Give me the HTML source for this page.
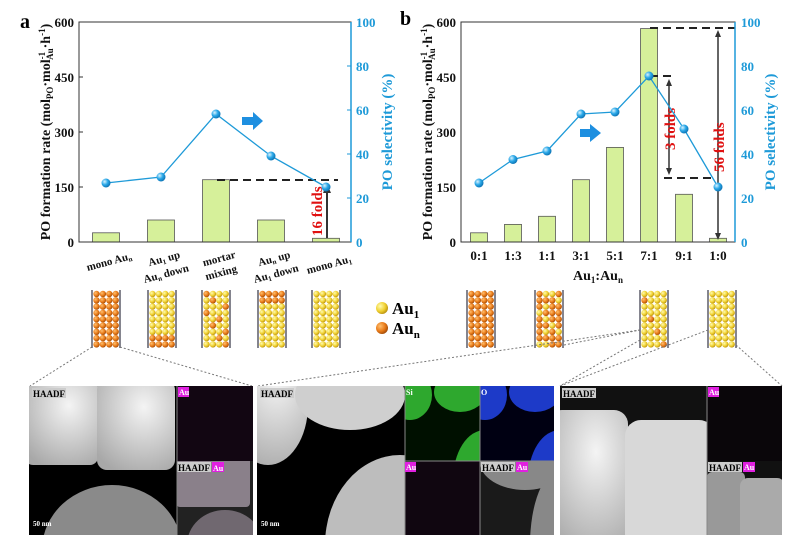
<!DOCTYPE html>
<html><head><meta charset="utf-8"><style>
html,body{margin:0;padding:0;background:#fff;overflow:hidden;width:799px;height:542px}
svg{display:block}
text{font-family:"Liberation Serif",serif;font-weight:bold}
</style></head><body>
<svg id="s" width="799" height="542" viewBox="0 0 799 542" xmlns="http://www.w3.org/2000/svg">
<defs>
<radialGradient id="gy" cx="0.35" cy="0.35" r="0.7"><stop offset="0" stop-color="#fffbb0"/><stop offset="0.6" stop-color="#f0d030"/><stop offset="1" stop-color="#b89010"/></radialGradient>
<radialGradient id="go" cx="0.35" cy="0.35" r="0.7"><stop offset="0" stop-color="#ffc070"/><stop offset="0.6" stop-color="#e87a18"/><stop offset="1" stop-color="#a04a08"/></radialGradient>
<radialGradient id="gb" cx="0.35" cy="0.35" r="0.7"><stop offset="0" stop-color="#d8f2ff"/><stop offset="0.5" stop-color="#2aa8e8"/><stop offset="1" stop-color="#0b6fb0"/></radialGradient>
<radialGradient id="w1" cx="0.6" cy="0.3" r="0.8"><stop offset="0" stop-color="#f4f4f4"/><stop offset="1" stop-color="#a8a8a8"/></radialGradient>
<clipPath id="c1a"><rect x="29" y="386" width="148" height="149"/></clipPath>
<clipPath id="c1b"><rect x="177" y="461" width="76" height="74"/></clipPath>
<clipPath id="c2a"><rect x="257" y="386" width="148" height="149"/></clipPath>
<clipPath id="c2si"><rect x="405" y="386" width="75" height="75"/></clipPath>
<clipPath id="c2o"><rect x="480" y="386" width="74" height="75"/></clipPath>
<clipPath id="c2h"><rect x="480" y="461" width="74" height="74"/></clipPath>
<clipPath id="c3a"><rect x="560" y="386" width="147" height="149"/></clipPath>
<clipPath id="c3b"><rect x="707" y="461" width="75" height="74"/></clipPath>
</defs>

<!-- ===== Chart a ===== -->
<text x="20" y="28" font-size="20">a</text>
<g fill="#d6f09a" stroke="#555" stroke-width="0.8">
<rect x="92.5" y="232.8" width="27" height="9.2"/>
<rect x="147.5" y="220" width="27" height="22"/>
<rect x="202.5" y="179.7" width="27" height="62.3"/>
<rect x="257.5" y="220" width="27" height="22"/>
<rect x="312.5" y="238.3" width="27" height="3.7"/>
</g>
<line x1="217" y1="180" x2="338" y2="180" stroke="#222" stroke-width="2" stroke-dasharray="8,5"/>
<line x1="327" y1="238" x2="327" y2="192" stroke="#333" stroke-width="2"/>
<path d="M323,193 L327,184 L331,193Z" fill="#333"/>
<text transform="translate(322,236) rotate(-90)" font-size="15" fill="#e01010">16 folds</text>
<polyline points="106,183 161,177 216,114 271,156 326,187" fill="none" stroke="#1e9ad8" stroke-width="1.3"/>
<g fill="url(#gb)"><circle cx="106" cy="183" r="4.5"/><circle cx="161" cy="177" r="4.5"/><circle cx="216" cy="114" r="4.5"/><circle cx="271" cy="156" r="4.5"/><circle cx="326" cy="187" r="4.5"/></g>
<path d="M242,117 h11 v-5 l10,9 -10,9 v-5 h-11z" fill="#1e8fe0"/>
<rect x="79" y="22" width="272" height="220" fill="none" stroke="#333" stroke-width="1"/>
<line x1="351" y1="22" x2="351" y2="242" stroke="#1e9ad8" stroke-width="1.5"/>
<g stroke="#333"><line x1="79" y1="22" x2="83" y2="22"/><line x1="79" y1="77" x2="83" y2="77"/><line x1="79" y1="132" x2="83" y2="132"/><line x1="79" y1="187" x2="83" y2="187"/></g>
<g stroke="#1e9ad8"><line x1="347" y1="66" x2="351" y2="66"/><line x1="347" y1="110" x2="351" y2="110"/><line x1="347" y1="154" x2="351" y2="154"/><line x1="347" y1="198" x2="351" y2="198"/></g>
<g font-size="13" text-anchor="end" fill="#111"><text x="74" y="27">600</text><text x="74" y="82">450</text><text x="74" y="137">300</text><text x="74" y="192">150</text><text x="74" y="247">0</text></g>
<g font-size="13" fill="#1e9ad8"><text x="356" y="27">100</text><text x="356" y="71">80</text><text x="356" y="115">60</text><text x="356" y="159">40</text><text x="356" y="203">20</text><text x="356" y="247">0</text></g>
<text transform="translate(50,132) rotate(-90)" font-size="14" text-anchor="middle" fill="#111">PO formation rate (mol<tspan font-size="9" dy="3">PO</tspan><tspan dy="-3">·mol</tspan><tspan font-size="9" dy="-5">-1</tspan><tspan font-size="9" dy="8" dx="-8">Au</tspan><tspan dy="-3">·h</tspan><tspan font-size="9" dy="-5">-1</tspan><tspan dy="5">)</tspan></text>
<text transform="translate(392,132) rotate(-90)" font-size="15" text-anchor="middle" fill="#1e9ad8">PO selectivity (%)</text>
<g font-size="11" fill="#111" text-anchor="middle">
<text transform="translate(110,265) rotate(-15)">mono Au<tspan font-size="7" dy="2">n</tspan></text>
<text transform="translate(165,262) rotate(-15)">Au<tspan font-size="7" dy="2">1</tspan><tspan dy="-2"> up</tspan></text>
<text transform="translate(167,277) rotate(-15)">Au<tspan font-size="7" dy="2">n</tspan><tspan dy="-2"> down</tspan></text>
<text transform="translate(220,262) rotate(-15)">mortar</text>
<text transform="translate(222,276) rotate(-15)">mixing</text>
<text transform="translate(275,262) rotate(-15)">Au<tspan font-size="7" dy="2">n</tspan><tspan dy="-2"> up</tspan></text>
<text transform="translate(277,277) rotate(-15)">Au<tspan font-size="7" dy="2">1</tspan><tspan dy="-2"> down</tspan></text>
<text transform="translate(330,268) rotate(-15)">mono Au<tspan font-size="7" dy="2">1</tspan></text>
</g>

<!-- ===== Chart b ===== -->
<text x="400" y="25" font-size="20">b</text>
<g fill="#d6f09a" stroke="#555" stroke-width="0.8">
<rect x="470.5" y="232.8" width="17" height="9.2"/>
<rect x="504.5" y="224.4" width="17" height="17.6"/>
<rect x="538.5" y="216.3" width="17" height="25.7"/>
<rect x="572.5" y="179.7" width="17" height="62.3"/>
<rect x="606.5" y="147.4" width="17" height="94.6"/>
<rect x="640.5" y="28.6" width="17" height="213.4"/>
<rect x="675.5" y="194.3" width="17" height="47.7"/>
<rect x="709.5" y="238.3" width="17" height="3.7"/>
</g>
<g stroke="#222" stroke-width="2" stroke-dasharray="8,5" fill="none">
<line x1="650" y1="28" x2="735" y2="28"/>
<line x1="650" y1="76" x2="676" y2="76"/>
<line x1="664" y1="178" x2="715" y2="178"/>
</g>
<g stroke="#333" stroke-width="1.5"><line x1="669" y1="84" x2="669" y2="170"/><line x1="718" y1="34" x2="718" y2="236"/></g>
<g fill="#333"><path d="M666,86 L669,79 L672,86Z"/><path d="M666,168 L669,175 L672,168Z"/><path d="M715,37 L718,30 L721,37Z"/><path d="M715,233 L718,240 L721,233Z"/></g>
<text transform="translate(675,150) rotate(-90)" font-size="15" fill="#e01010">3 folds</text>
<text transform="translate(724,172) rotate(-90)" font-size="15" fill="#e01010">56 folds</text>
<polyline points="479,183 513,159.5 547,151 581,114 615,112 649,76 684,129 718,187" fill="none" stroke="#1e9ad8" stroke-width="1.3"/>
<g fill="url(#gb)"><circle cx="479" cy="183" r="4.5"/><circle cx="513" cy="159.5" r="4.5"/><circle cx="547" cy="151" r="4.5"/><circle cx="581" cy="114" r="4.5"/><circle cx="615" cy="112" r="4.5"/><circle cx="649" cy="76" r="4.5"/><circle cx="684" cy="129" r="4.5"/><circle cx="718" cy="187" r="4.5"/></g>
<path d="M580,129 h10 v-5 l11,9 -11,9 v-5 h-10z" fill="#1e8fe0"/>
<rect x="461" y="22" width="274" height="220" fill="none" stroke="#333" stroke-width="1"/>
<line x1="735" y1="22" x2="735" y2="242" stroke="#1e9ad8" stroke-width="1.5"/>
<g font-size="13" text-anchor="end" fill="#111"><text x="456" y="27">600</text><text x="456" y="82">450</text><text x="456" y="137">300</text><text x="456" y="192">150</text><text x="456" y="247">0</text></g>
<g font-size="13" fill="#1e9ad8"><text x="741" y="27">100</text><text x="741" y="71">80</text><text x="741" y="115">60</text><text x="741" y="159">40</text><text x="741" y="203">20</text><text x="741" y="247">0</text></g>
<text transform="translate(432,132) rotate(-90)" font-size="14" text-anchor="middle" fill="#111">PO formation rate (mol<tspan font-size="9" dy="3">PO</tspan><tspan dy="-3">·mol</tspan><tspan font-size="9" dy="-5">-1</tspan><tspan font-size="9" dy="8" dx="-8">Au</tspan><tspan dy="-3">·h</tspan><tspan font-size="9" dy="-5">-1</tspan><tspan dy="5">)</tspan></text>
<text transform="translate(775,132) rotate(-90)" font-size="15" text-anchor="middle" fill="#1e9ad8">PO selectivity (%)</text>
<g font-size="13" fill="#111" text-anchor="middle"><text x="479" y="260">0:1</text><text x="513" y="260">1:3</text><text x="547" y="260">1:1</text><text x="581" y="260">3:1</text><text x="615" y="260">5:1</text><text x="649" y="260">7:1</text><text x="684" y="260">9:1</text><text x="718" y="260">1:0</text></g>
<text x="598" y="280" font-size="14" text-anchor="middle" fill="#111">Au<tspan font-size="9" dy="3">1</tspan><tspan dy="-3">:Au</tspan><tspan font-size="9" dy="3">n</tspan></text>

<!-- tubes -->
<g id="tubes"></g>
<circle cx="382" cy="308" r="6" fill="url(#gy)"/><circle cx="382" cy="328" r="6" fill="url(#go)"/>
<text x="392" y="314" font-size="17">Au<tspan font-size="11" dy="4">1</tspan></text>
<text x="392" y="334" font-size="17">Au<tspan font-size="11" dy="4">n</tspan></text>

<!-- dotted connectors -->
<g stroke="#777" stroke-width="1" stroke-dasharray="2,2" fill="none">
<line x1="92" y1="347" x2="30" y2="386"/><line x1="120" y1="347" x2="252" y2="386"/>
<line x1="640" y1="330" x2="258" y2="386"/><line x1="564" y1="345" x2="640" y2="330"/>
<line x1="640" y1="340" x2="560" y2="386"/>
<line x1="708" y1="330" x2="560" y2="386"/>
<line x1="736" y1="345" x2="782" y2="386"/>
</g>

<!-- panel 1 -->
<rect x="29" y="386" width="224" height="149" fill="#000"/>
<g clip-path="url(#c1a)">
<rect x="25" y="380" width="73" height="85" rx="8" fill="url(#w1)"/>
<rect x="97" y="380" width="78" height="90" rx="10" fill="url(#w1)"/>
<ellipse cx="112" cy="550" rx="70" ry="65" fill="#8a8a8a"/>
</g>
<rect x="32" y="388" width="34" height="10" fill="#ccc"/><text x="33" y="397" font-size="9">HAADF</text>
<text x="33" y="526" font-size="7" fill="#fff" font-family="Liberation Sans" font-weight="normal">50 nm</text>
<rect x="177" y="386" width="76" height="75" fill="#120612"/>
<rect x="178" y="387" width="11" height="10" fill="#e020e0"/><text x="179" y="395" font-size="8" fill="#fff">Au</text>
<rect x="177" y="461" width="76" height="74" fill="#222"/>
<g clip-path="url(#c1b)">
<rect x="176" y="455" width="74" height="52" rx="4" fill="#8a808a"/>
<ellipse cx="225" cy="545" rx="38" ry="35" fill="#706870"/>
</g>
<rect x="177" y="462" width="34" height="10" fill="#ccc"/><text x="178" y="471" font-size="9">HAADF</text>
<rect x="212" y="462" width="12" height="10" fill="#e020e0"/><text x="213" y="471" font-size="8" fill="#fff">Au</text>
<line x1="177" y1="386" x2="177" y2="535" stroke="#888"/>

<!-- panel 2 -->
<rect x="257" y="386" width="297" height="149" fill="#000"/>
<g clip-path="url(#c2a)">
<ellipse cx="268" cy="405" rx="40" ry="60" fill="url(#w1)"/>
<ellipse cx="350" cy="395" rx="55" ry="35" fill="#cfcfcf"/>
<ellipse cx="400" cy="545" rx="75" ry="90" fill="#bdbdbd"/>
</g>
<rect x="405" y="386" width="75" height="75" fill="#001000"/>
<g clip-path="url(#c2si)"><ellipse cx="410" cy="395" rx="22" ry="25" fill="#2ea82e"/><ellipse cx="460" cy="392" rx="26" ry="20" fill="#2ea82e"/><ellipse cx="485" cy="480" rx="32" ry="50" fill="#2ea82e"/></g>
<rect x="480" y="386" width="74" height="75" fill="#000012"/>
<g clip-path="url(#c2o)"><ellipse cx="485" cy="395" rx="22" ry="25" fill="#1d3ac8"/><ellipse cx="535" cy="392" rx="26" ry="20" fill="#1d3ac8"/><ellipse cx="560" cy="480" rx="32" ry="50" fill="#1d3ac8"/></g>
<rect x="405" y="461" width="75" height="74" fill="#100610"/>
<rect x="480" y="461" width="74" height="74" fill="#1a1a1a"/>
<g clip-path="url(#c2h)"><ellipse cx="525" cy="462" rx="45" ry="28" fill="#888"/><ellipse cx="560" cy="545" rx="30" ry="75" fill="#888"/></g>
<g stroke="#888" fill="none"><line x1="405" y1="386" x2="405" y2="535"/><line x1="480" y1="386" x2="480" y2="535"/><line x1="405" y1="461" x2="554" y2="461"/></g>
<rect x="260" y="388" width="34" height="10" fill="#ccc"/><text x="261" y="397" font-size="9">HAADF</text>
<text x="261" y="526" font-size="7" fill="#fff" font-family="Liberation Sans" font-weight="normal">50 nm</text>
<text x="406" y="395" font-size="8" fill="#fff">Si</text><text x="481" y="395" font-size="8" fill="#fff">O</text>
<rect x="405" y="462" width="11" height="10" fill="#e020e0"/><text x="406" y="470" font-size="8" fill="#fff">Au</text>
<rect x="481" y="462" width="34" height="10" fill="#ccc"/><text x="482" y="471" font-size="9">HAADF</text>
<rect x="516" y="462" width="12" height="10" fill="#e020e0"/><text x="517" y="470" font-size="8" fill="#fff">Au</text>

<!-- panel 3 -->
<rect x="560" y="386" width="222" height="149" fill="#111"/>
<g clip-path="url(#c3a)">
<rect x="548" y="410" width="80" height="140" rx="14" fill="url(#w1)"/>
<rect x="625" y="420" width="90" height="130" rx="16" fill="#d8d8d8"/>
</g>
<rect x="707" y="386" width="75" height="75" fill="#0a060a"/>
<g clip-path="url(#c3b)">
<rect x="707" y="472" width="38" height="70" rx="5" fill="#999"/><rect x="740" y="478" width="45" height="65" rx="8" fill="#aaa"/>
</g>
<line x1="707" y1="386" x2="707" y2="535" stroke="#888"/>
<rect x="562" y="388" width="34" height="10" fill="#ccc"/><text x="563" y="397" font-size="9">HAADF</text>
<rect x="708" y="387" width="11" height="10" fill="#e020e0"/><text x="709" y="395" font-size="8" fill="#fff">Au</text>
<rect x="708" y="462" width="34" height="10" fill="#ccc"/><text x="709" y="471" font-size="9">HAADF</text>
<rect x="743" y="462" width="12" height="10" fill="#e020e0"/><text x="744" y="470" font-size="8" fill="#fff">Au</text>
</svg>
<script>
(function(){
var g=document.getElementById('tubes'),ns='http://www.w3.org/2000/svg';
var tubes=[[92,'all-o'],[148,'bot'],[202,'mix'],[258,'top'],[312,'all-y'],[467,'all-o'],[535,'mostO'],[640,'mostY'],[708,'all-y']];
var mixSet={'0,0':1,'1,1':1,'2,3':1,'3,0':1,'4,2':1,'5,1':1,'6,3':1,'7,2':1,'8,3':1};
tubes.forEach(function(t){
 var x=t[0];
 [x,x+28].forEach(function(lx){var l=document.createElementNS(ns,'line');l.setAttribute('x1',lx);l.setAttribute('x2',lx);l.setAttribute('y1',290);l.setAttribute('y2',348);l.setAttribute('stroke','#334');l.setAttribute('stroke-width','1.2');g.appendChild(l);});
 for(var r=0;r<9;r++)for(var c=0;c<4;c++){
  var o=false,k=r+','+c;
  switch(t[1]){case 'all-o':o=true;break;case 'bot':o=r>=7;break;case 'top':o=r<=1;break;case 'mix':o=!!mixSet[k];break;
   case 'mostO':o=!((r*4+c)%4==1&&r%2==0)&&!((r*4+c)%5==2);break;case 'mostY':o=(k=='1,0'||k=='4,1'||k=='6,2'||k=='8,3');break;}
  var ci=document.createElementNS(ns,'circle');ci.setAttribute('cx',x+4.5+c*6.4);ci.setAttribute('cy',294+r*6.3);ci.setAttribute('r',3.2);ci.setAttribute('fill',o?'url(#go)':'url(#gy)');g.appendChild(ci);
 }
});
})();
</script>
</body></html>
